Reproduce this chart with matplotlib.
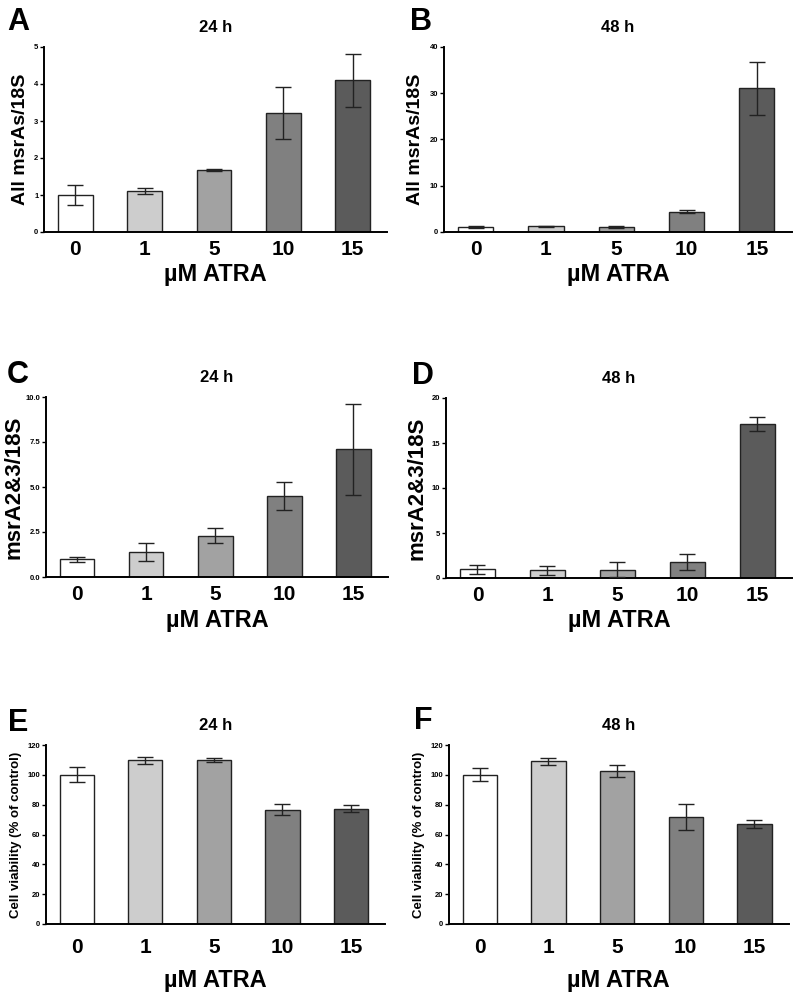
import numpy as np
import matplotlib
matplotlib.use("Agg")
import matplotlib.pyplot as plt

plt.rcParams['font.family'] = ['Liberation Sans', 'DejaVu Sans']
plt.rcParams['font.weight'] = 'bold'

doses = ["0", "1", "5", "10", "15"]
bar_colors = ["#ffffff", "#cdcdcd", "#a2a2a2", "#808080", "#5b5b5b"]

# panel A: all msrAs, 24 h
a_vals = [1.0, 1.12, 1.67, 3.22, 4.1]
a_err = [0.27, 0.08, 0.02, 0.70, 0.72]
# panel B: all msrAs, 48 h
b_vals = [1.0, 1.2, 1.0, 4.4, 31.1]
b_err = [0.2, 0.2, 0.2, 0.3, 5.7]
# panel C: msrA2&3, 24 h
c_vals = [0.98, 1.38, 2.3, 4.5, 7.1]
c_err = [0.13, 0.51, 0.42, 0.8, 2.53]
# panel D: msrA2&3, 48 h
d_vals = [0.96, 0.85, 0.93, 1.8, 17.1]
d_err = [0.52, 0.5, 0.8, 0.87, 0.75]
# panel E: viability, 24 h
e_vals = [100.0, 109.7, 110.0, 76.7, 77.3]
e_err = [5.1, 2.4, 1.3, 3.6, 2.2]
# panel F: viability, 48 h
f_vals = [100.1, 109.2, 102.5, 71.7, 66.9]
f_err = [4.4, 2.4, 4.1, 8.8, 2.7]

# letter, title, values, errors, ylabel, ylabel size, ylabel pad, yticks, tick format, axes rect, letter pos
panels = [
    ("A", "24 h", a_vals, a_err, "All msrAs/18S", 14, 4, np.arange(0, 6, 1), "%d",
     [0.055, 0.768, 0.429, 0.185], (-0.076, 1.135)),
    ("B", "48 h", b_vals, b_err, "All msrAs/18S", 14, 4, np.arange(0, 41, 10), "%d",
     [0.555, 0.768, 0.435, 0.185], (-0.066, 1.135)),
    ("C", "24 h", c_vals, c_err, "msrA2&3/18S", 16, 1, np.arange(0, 10.1, 2.5), "%.1f",
     [0.0575, 0.423, 0.4275, 0.180], (-0.082, 1.12)),
    ("D", "48 h", d_vals, d_err, "msrA2&3/18S", 16, 3, np.arange(0, 21, 5), "%d",
     [0.5575, 0.422, 0.4325, 0.180], (-0.066, 1.12)),
    ("E", "24 h", e_vals, e_err, "Cell viability (% of control)", 9.5, 4, np.arange(0, 121, 20), "%d",
     [0.0575, 0.076, 0.424, 0.179], (-0.082, 1.123)),
    ("F", "48 h", f_vals, f_err, "Cell viability (% of control)", 9.5, 4, np.arange(0, 121, 20), "%d",
     [0.561, 0.076, 0.425, 0.179], (-0.076, 1.135)),
]

fig = plt.figure(figsize=(8, 10), dpi=100)

for letter, title, vals, err, ylab, ylab_size, ylab_pad, yticks, fmt, rect, lpos in panels:
    ax = fig.add_axes(rect)
    x = np.arange(len(doses))
    ax.bar(x, vals, width=0.5, color=bar_colors, edgecolor="#222222", linewidth=1.0, zorder=2)
    ax.errorbar(x, vals, yerr=err, fmt="none", ecolor="#222222", elinewidth=1.0,
                capsize=6, capthick=1.0, zorder=3)
    ax.set_xlim(-0.45, 4.5)
    ax.set_ylim(0, yticks[-1])
    ax.set_yticks(yticks)
    ax.set_yticklabels([fmt % t for t in yticks], fontsize=5.5, fontweight="bold")
    ax.set_xticks(x)
    ax.set_xticklabels(doses, fontsize=15, fontweight="bold")
    bottom_row = letter in "EF"
    ax.tick_params(axis="x", length=0, pad=10 if bottom_row else 6)
    ax.tick_params(axis="y", length=3, width=1, pad=1)
    for s in ["top", "right"]:
        ax.spines[s].set_visible(False)
    for s in ["left", "bottom"]:
        ax.spines[s].set_linewidth(1.4)
    ax.set_ylabel(ylab, fontsize=ylab_size, fontweight="bold", labelpad=ylab_pad)
    ax.set_xlabel("\u00b5M ATRA", fontsize=17, fontweight="bold",
                  labelpad=9 if bottom_row else 3)
    ax.set_title(title, fontsize=12, fontweight="bold", pad=11)
    ax.text(lpos[0], lpos[1], letter, transform=ax.transAxes, fontsize=22,
            fontweight="bold", ha="center", va="center")

fig.savefig("out.png", dpi=100)
